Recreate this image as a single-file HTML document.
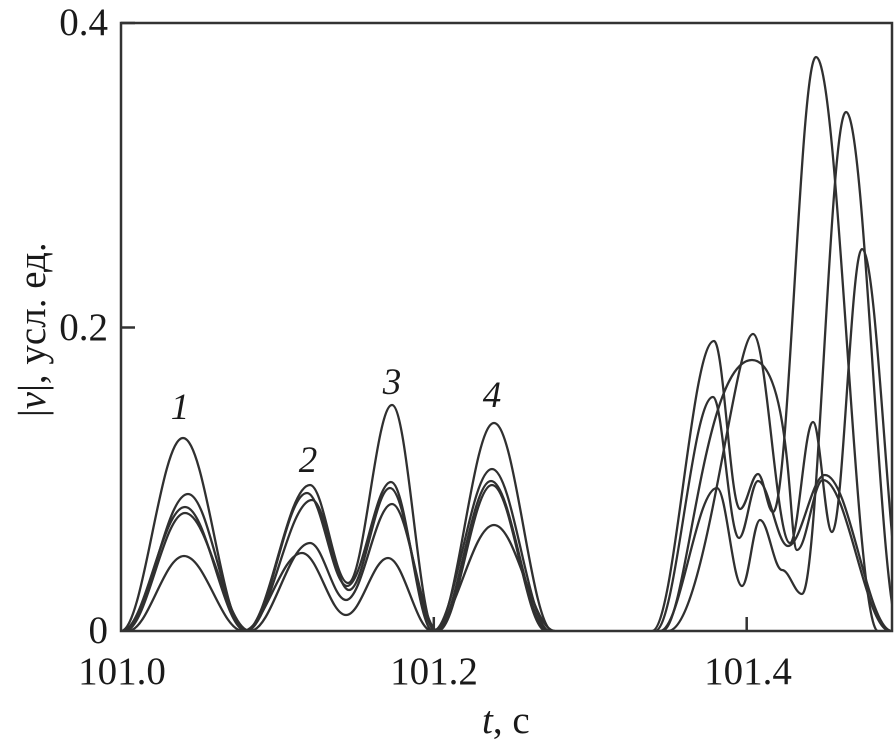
<!DOCTYPE html>
<html><head><meta charset="utf-8"><style>
html,body{margin:0;padding:0;background:#fff;}
svg{display:block;}
text{font-family:"Liberation Serif","DejaVu Serif",serif;fill:#1a1a1a;}
</style></head><body>
<svg width="895" height="747" viewBox="0 0 895 747" xmlns="http://www.w3.org/2000/svg">
<defs><clipPath id="pc"><rect x="121" y="23" width="771" height="608"/></clipPath></defs>
<rect width="895" height="747" fill="#fff"/>
<g clip-path="url(#pc)" fill="none" stroke="#303030" stroke-width="2.3" stroke-linejoin="round">
<path d="M121 631 C143.6 631,160.4 438,183 438 C205.6 438,222.4 631,245 631 C268.7 631,286.3 485,310 485 C323.8 485,334.2 583,348 583 C364 583,376 405,392 405 C407.7 405,419.3 631,435 631 C456.5 631,472.5 423,494 423 C515.5 423,531.5 631,553 631"/>
<path d="M124 631 C147.3 631,164.7 494,188 494 C209.5 494,225.5 631,247 631 C268.8 631,285.2 493,307 493 C321.6 493,332.4 586,347 586 C363 586,375 482,391 482 C406.3 482,417.7 631,433 631 C454.5 631,470.5 469,492 469 C513.1 469,528.9 631,550 631"/>
<path d="M122 631 C144.9 631,162.1 507,185 507 C207.2 507,223.8 631,246 631 C270 631,288 500,312 500 C325.5 500,335.5 590,349 590 C363.9 590,375.1 488,390 488 C406.7 488,419.3 631,436 631 C456 631,471 481,491 481 C511.7 481,527.3 631,548 631"/>
<path d="M125 631 C146.8 631,163.2 513,185 513 C208.7 513,226.3 631,250 631 C271.8 631,288.2 543,310 543 C323.1 543,332.9 600,346 600 C362.7 600,375.3 504,392 504 C408.7 504,421.3 631,438 631 C457.7 631,472.3 485,492 485 C511.7 485,526.3 631,546 631"/>
<path d="M128 631 C148.4 631,163.6 556,184 556 C205.5 556,221.5 631,243 631 C264.5 631,280.5 553,302 553 C318 553,330 615,346 615 C361.3 615,372.7 558,388 558 C404 558,416 631,432 631 C454.6 631,471.4 525,494 525 C516.2 525,532.8 631,555 631"/>
<path d="M652 631 C674.6 631,691.4 341,714 341 C723.5 341,730.5 509,740 509 C746.6 509,751.4 474,758 474 C763.5 474,767.5 512,773 512 C788.7 512,800.3 57,816 57 C838.6 57,855.4 631,878 631"/>
<path d="M655 631 C676.1 631,691.9 397,713 397 C722.5 397,729.5 538,739 538 C745.9 538,751.1 481,758 481 C768.9 481,777.1 546,788 546 C801.5 546,811.5 475,825 475 C849.4 475,867.6 631,892 631"/>
<path d="M660 631 C680.7 631,696.3 488,717 488 C726.1 488,732.9 586,742 586 C748.6 586,753.4 520,760 520 C768 520,774 570,782 570 C789.3 570,794.7 594,802 594 C818 594,830 112,846 112 C865.7 112,880.3 631,900 631"/>
<path d="M668 631 C705 631,735 334,753 334 C766.5 334,776.5 543,790 543 C798.4 543,804.6 422,813 422 C819.9 422,825.1 532,832 532 C842.9 532,851.1 249,862 249 C878.4 249,890.6 631,907 631"/>
<path d="M662 631 C687 631,702 360,752 360 C792 360,789 550,797 550 C806.5 550,813.5 480,823 480 C847.4 480,865.6 631,890 631"/>
</g>
<g fill="none" stroke="#333" stroke-width="2.5">
<rect x="121" y="23" width="771" height="608"/>
<line x1="121" y1="327.5" x2="135" y2="327.5"/>
<line x1="121" y1="23" x2="135" y2="23"/>
<line x1="433.8" y1="631" x2="433.8" y2="617"/>
<line x1="746.7" y1="631" x2="746.7" y2="617"/>
</g>
<g font-size="39">
<text x="108" y="35" text-anchor="end">0.4</text>
<text x="108" y="340" text-anchor="end">0.2</text>
<text x="108" y="643" text-anchor="end">0</text>
<text x="122" y="684" text-anchor="middle">101.0</text>
<text x="434" y="684" text-anchor="middle">101.2</text>
<text x="748" y="684" text-anchor="middle">101.4</text>
<text x="482" y="733"><tspan font-style="italic">t</tspan>, с</text>
<text transform="translate(45,417) rotate(-90)">|<tspan font-style="italic">v</tspan>|, усл. ед.</text>
</g>
<g font-size="37" font-style="italic" text-anchor="middle">
<text x="180" y="419">1</text>
<text x="308" y="472">2</text>
<text x="392" y="394">3</text>
<text x="492" y="407">4</text>
</g>
</svg>
</body></html>
